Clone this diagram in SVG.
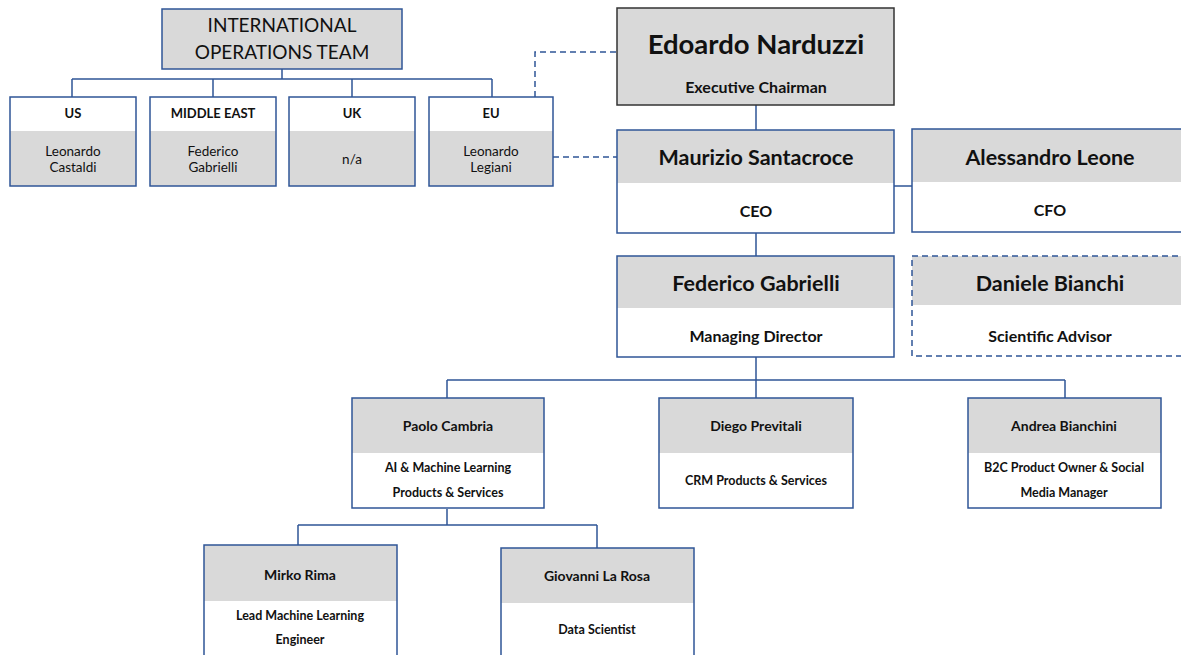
<svg xmlns="http://www.w3.org/2000/svg" width="1181" height="655" viewBox="0 0 1181 655">
<style>
text{font-family:Lato,"Open Sans","Liberation Sans",sans-serif;fill:#111;text-anchor:middle}
.b{fill:none;stroke:#2F5597;stroke-width:1.5}
.g{fill:#D9D9D9}
.c{fill:none;stroke:#2F5597;stroke-width:1.5}
.d{fill:none;stroke:#2F5597;stroke-width:1.5;stroke-dasharray:6,4}
.h{font-size:13px;font-weight:bold}
.n{font-size:13.5px}
.nm{font-size:14px;font-weight:bold}
.r{font-size:12.5px;font-weight:bold}
.role{font-size:16px;font-weight:bold}
.big{font-size:21.5px;font-weight:bold}
</style>
<rect width="1181" height="655" fill="#fff"/>
<g id="connectors">
<path class="c" d="M282 69V79M72 79H492M72 79V97M213 79V97M352 79V97M492 79V97"/>
<path class="d" d="M535 97V52H617M553 157H617"/>
<path class="c" d="M756 105V130M756 233V256M894 186H912"/>
<path class="c" d="M756 357V380M447 380H1065M447 380V398M756 380V398M1065 380V398"/>
<path class="c" d="M447 509V525M298 525H597M298 525V545M597 525V548"/>
</g>
<g id="intl">
<rect x="162" y="9" width="240" height="60" fill="#D9D9D9" stroke="#2F5597" stroke-width="1.5"/>
<text x="282" y="32" style="font-size:19px">INTERNATIONAL</text>
<text x="282" y="59" style="font-size:19px">OPERATIONS TEAM</text>
</g>
<g id="us">
<rect x="10" y="131" width="126" height="55" class="g"/>
<rect x="10" y="97" width="126" height="89" class="b"/>
<text x="73" y="118" class="h">US</text>
<text x="73" y="156" class="n">Leonardo</text>
<text x="73" y="172" class="n">Castaldi</text>
</g>
<g id="me">
<rect x="150" y="131" width="126" height="55" class="g"/>
<rect x="150" y="97" width="126" height="89" class="b"/>
<text x="213" y="118" class="h">MIDDLE EAST</text>
<text x="213" y="156" class="n">Federico</text>
<text x="213" y="172" class="n">Gabrielli</text>
</g>
<g id="uk">
<rect x="289" y="131" width="126" height="55" class="g"/>
<rect x="289" y="97" width="126" height="89" class="b"/>
<text x="352" y="118" class="h">UK</text>
<text x="352" y="164" class="n">n/a</text>
</g>
<g id="eu">
<rect x="429" y="131" width="124" height="55" class="g"/>
<rect x="429" y="97" width="124" height="89" class="b"/>
<text x="491" y="118" class="h">EU</text>
<text x="491" y="156" class="n">Leonardo</text>
<text x="491" y="172" class="n">Legiani</text>
</g>
<g id="edoardo">
<rect x="617" y="8" width="277" height="97" fill="#D9D9D9" stroke="#333" stroke-width="1.5"/>
<text x="756" y="54" style="font-size:27.5px;font-weight:bold">Edoardo Narduzzi</text>
<text x="756" y="93" class="role">Executive Chairman</text>
</g>
<g id="maurizio">
<rect x="617" y="130" width="277" height="53" class="g"/>
<rect x="617" y="130" width="277" height="103" class="b"/>
<text x="756" y="165" class="big">Maurizio Santacroce</text>
<text x="756" y="217" class="role">CEO</text>
</g>
<g id="alessandro">
<rect x="912" y="129" width="270" height="53" class="g"/>
<rect x="912" y="129" width="270" height="103" class="b"/>
<text x="1050" y="165" class="big">Alessandro Leone</text>
<text x="1050" y="216" class="role">CFO</text>
</g>
<g id="federico">
<rect x="617" y="256" width="277" height="52" class="g"/>
<rect x="617" y="256" width="277" height="101" class="b"/>
<text x="756" y="291" class="big">Federico Gabrielli</text>
<text x="756" y="342" class="role">Managing Director</text>
</g>
<g id="daniele">
<rect x="912" y="256" width="270" height="49" class="g"/>
<rect x="912" y="256" width="270" height="100" class="d"/>
<text x="1050" y="291" class="big">Daniele Bianchi</text>
<text x="1050" y="342" class="role">Scientific Advisor</text>
</g>
<g id="paolo">
<rect x="352" y="398" width="192" height="55" class="g"/>
<rect x="352" y="398" width="192" height="110" class="b"/>
<text x="448" y="431" class="nm">Paolo Cambria</text>
<text x="448" y="472" class="r">AI &amp; Machine Learning</text>
<text x="448" y="497" class="r">Products &amp; Services</text>
</g>
<g id="diego">
<rect x="659" y="398" width="194" height="55" class="g"/>
<rect x="659" y="398" width="194" height="110" class="b"/>
<text x="756" y="431" class="nm">Diego Previtali</text>
<text x="756" y="485" class="r">CRM Products &amp; Services</text>
</g>
<g id="andrea">
<rect x="968" y="398" width="193" height="55" class="g"/>
<rect x="968" y="398" width="193" height="110" class="b"/>
<text x="1064" y="431" class="nm">Andrea Bianchini</text>
<text x="1064" y="472" class="r">B2C Product Owner &amp; Social</text>
<text x="1064" y="497" class="r">Media Manager</text>
</g>
<g id="mirko">
<rect x="204" y="545" width="193" height="56" class="g"/>
<rect x="204" y="545" width="193" height="115" class="b"/>
<text x="300" y="580" class="nm">Mirko Rima</text>
<text x="300" y="620" class="r">Lead Machine Learning</text>
<text x="300" y="644" class="r">Engineer</text>
</g>
<g id="giovanni">
<rect x="501" y="548" width="193" height="55" class="g"/>
<rect x="501" y="548" width="193" height="115" class="b"/>
<text x="597" y="581" class="nm">Giovanni La Rosa</text>
<text x="597" y="634" class="r">Data Scientist</text>
</g>
</svg>
